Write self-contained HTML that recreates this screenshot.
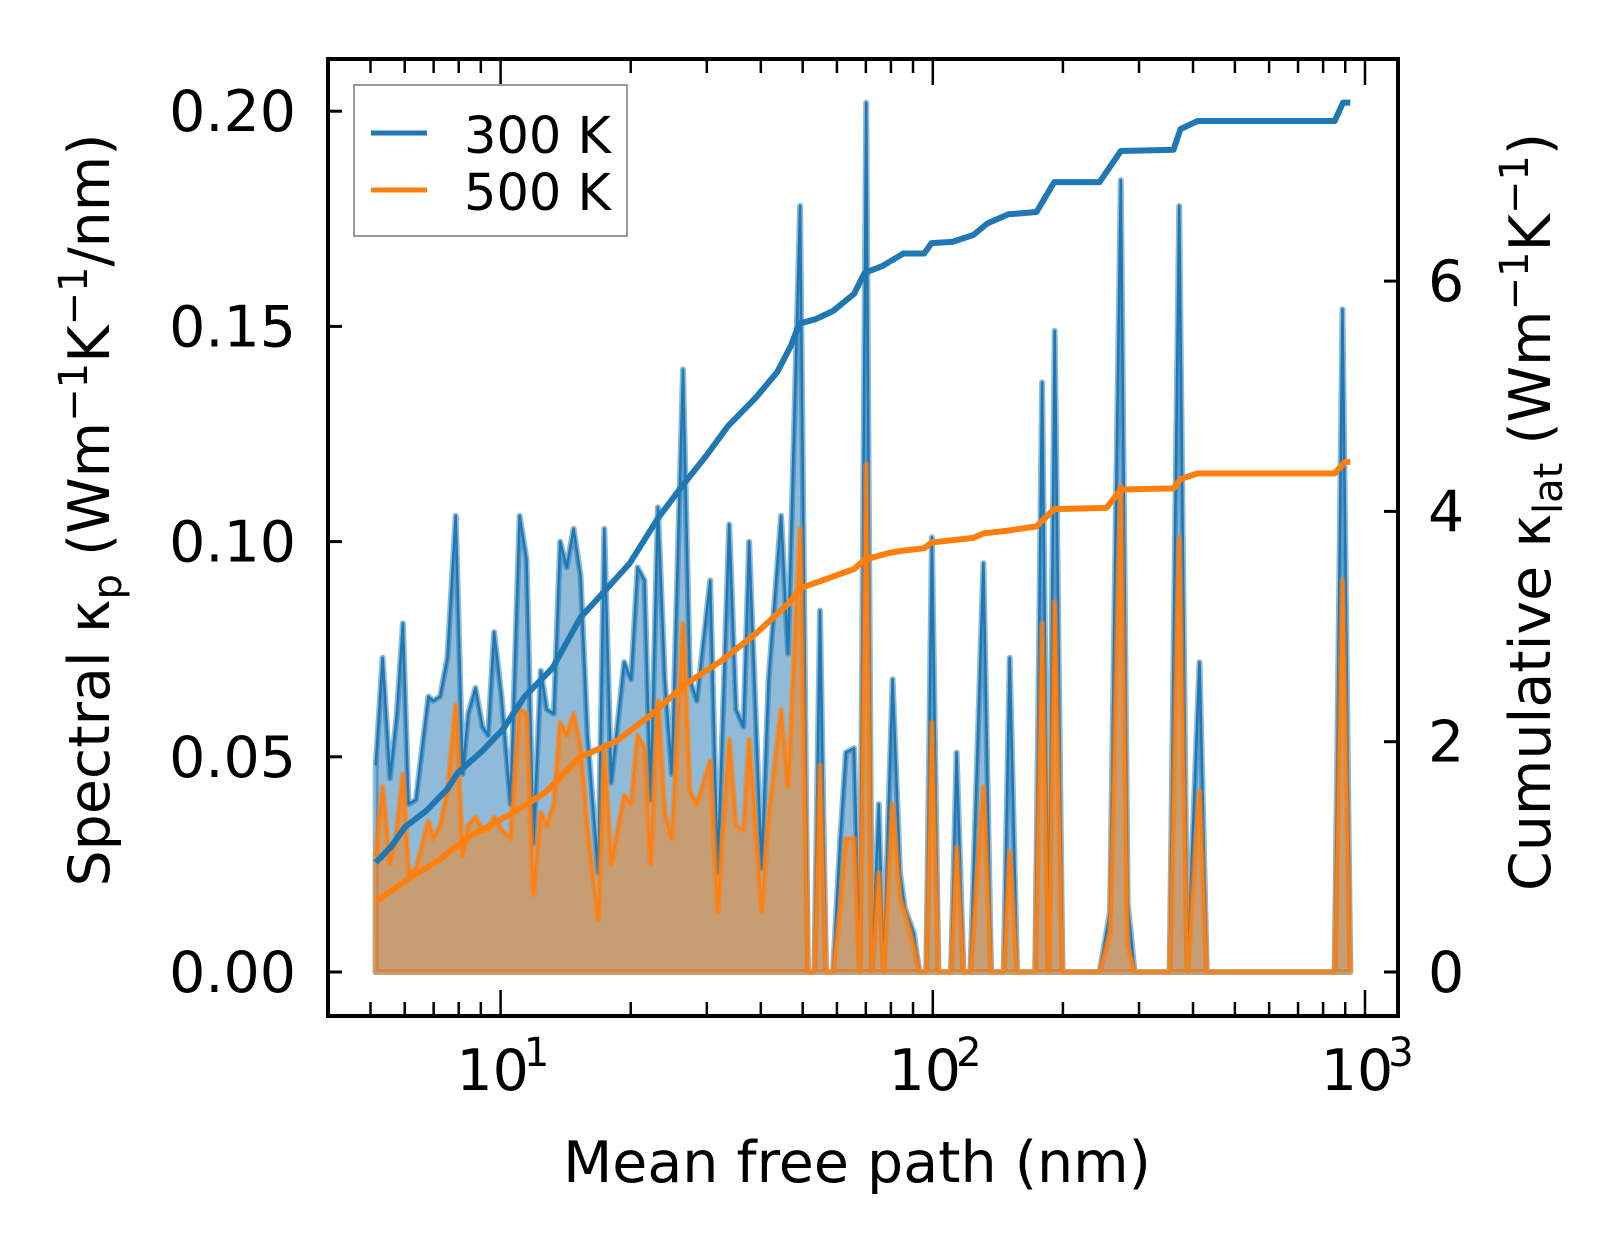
<!DOCTYPE html>
<html><head><meta charset="utf-8"><style>
html,body{margin:0;padding:0;background:#fff}
svg{display:block;font-family:"DejaVu Sans","Liberation Sans",sans-serif}
</style></head><body>
<svg id="chart" width="1623" height="1254" viewBox="0 0 1623 1254" xmlns="http://www.w3.org/2000/svg">
<defs><clipPath id="clip"><rect x="328" y="59" width="1070" height="957"/></clipPath></defs>
<g id="plot" clip-path="url(#clip)"></g>
<g id="axes"></g>
</svg>
<script>
const specLogMfp=[0.711,0.727,0.744,0.760,0.774,0.787,0.804,0.833,0.844,0.860,0.877,0.896,0.912,0.925,0.942,0.958,0.971,0.985,1.002,1.023,1.044,1.060,1.076,1.093,1.107,1.123,1.138,1.153,1.169,1.185,1.201,1.226,1.240,1.256,1.286,1.302,1.317,1.333,1.347,1.364,1.380,1.396,1.422,1.438,1.454,1.485,1.502,1.529,1.545,1.562,1.575,1.604,1.620,1.649,1.665,1.693,1.711,1.726,1.739,1.753,1.769,1.786,1.799,1.818,1.831,1.846,1.859,1.875,1.886,1.907,1.924,1.935,1.956,1.969,1.985,1.998,2.013,2.042,2.055,2.071,2.087,2.117,2.135,2.164,2.178,2.195,2.237,2.253,2.268,2.282,2.300,2.386,2.410,2.435,2.451,2.467,2.548,2.570,2.589,2.617,2.634,2.930,2.948,2.966];
const spec300=[0.048,0.073,0.045,0.060,0.081,0.039,0.040,0.064,0.063,0.064,0.073,0.106,0.046,0.060,0.066,0.057,0.055,0.079,0.064,0.039,0.106,0.096,0.030,0.070,0.061,0.060,0.100,0.094,0.103,0.092,0.055,0.023,0.103,0.044,0.072,0.068,0.094,0.091,0.040,0.108,0.068,0.046,0.140,0.068,0.063,0.091,0.023,0.104,0.061,0.057,0.100,0.024,0.068,0.106,0.074,0.178,0,0,0.084,0,0,0.031,0.051,0.052,0,0.202,0,0.039,0,0.068,0.023,0.015,0.009,0,0,0.101,0,0,0.051,0,0,0.095,0,0,0.073,0,0,0.137,0,0.149,0,0,0.014,0.184,0.016,0,0,0.178,0,0.072,0,0,0.154,0];
const spec500=[0.027,0.043,0.025,0.033,0.046,0.023,0.024,0.035,0.031,0.034,0.042,0.062,0.027,0.034,0.036,0.033,0.033,0.036,0.033,0.031,0.061,0.060,0.018,0.037,0.034,0.039,0.058,0.055,0.060,0.052,0.033,0.012,0.052,0.025,0.041,0.039,0.055,0.052,0.025,0.063,0.037,0.031,0.081,0.042,0.039,0.049,0.014,0.054,0.034,0.033,0.054,0.014,0.036,0.061,0.043,0.103,0,0,0.048,0,0,0.015,0.031,0.031,0,0.118,0,0.023,0,0.039,0.017,0.014,0.006,0,0,0.058,0,0,0.029,0,0,0.043,0,0,0.028,0,0,0.081,0,0.086,0,0,0.009,0.113,0.006,0,0,0.101,0,0.042,0,0,0.091,0];
const cum300LogMfp=[0.711,0.747,0.779,0.828,0.877,0.901,0.958,1.006,1.055,1.120,1.185,1.234,1.299,1.364,1.420,1.477,1.526,1.591,1.640,1.672,1.691,1.729,1.769,1.818,1.842,1.883,1.932,1.980,1.997,2.045,2.094,2.126,2.175,2.240,2.281,2.386,2.435,2.557,2.573,2.613,2.930,2.949,2.966];
const cum300=[0.95,1.09,1.26,1.40,1.59,1.73,1.92,2.11,2.39,2.64,3.08,3.28,3.55,3.94,4.22,4.49,4.74,4.99,5.21,5.44,5.63,5.67,5.74,5.89,6.07,6.13,6.24,6.24,6.33,6.34,6.40,6.50,6.58,6.60,6.86,6.86,7.13,7.14,7.32,7.39,7.39,7.55,7.55];
const cum500LogMfp=[0.711,0.779,0.860,0.925,1.023,1.104,1.185,1.266,1.347,1.428,1.510,1.591,1.672,1.691,1.737,1.818,1.842,1.899,1.932,1.980,1.997,2.045,2.094,2.118,2.167,2.240,2.281,2.402,2.435,2.557,2.573,2.613,2.930,2.954,2.966];
const cum500=[0.61,0.79,0.98,1.17,1.37,1.56,1.87,2.00,2.23,2.50,2.70,2.94,3.22,3.33,3.39,3.50,3.58,3.64,3.66,3.68,3.73,3.75,3.77,3.81,3.83,3.87,4.02,4.03,4.19,4.20,4.28,4.33,4.33,4.43,4.43];
const leftTicks=[0,0.05,0.10,0.15,0.20];
const leftTickLabels=["0.00","0.05","0.10","0.15","0.20"];
const rightTicks=[0,2,4,6];
const xMajorExp=[1,2,3];

const NS="http://www.w3.org/2000/svg";
const RIGHT=1398;
const X=l=>500.6+(l-1)*432.2;
const YL=v=>972-v*4304;
const YR=v=>972-v*115.15;
const plot=document.getElementById('plot'), axes=document.getElementById('axes');
function mk(tag,attrs,parent){const e=document.createElementNS(NS,tag);for(const k in attrs)e.setAttribute(k,attrs[k]);parent.appendChild(e);return e;}

function area(vals,color,name){
  let d='M'+X(specLogMfp[0])+','+YL(0);
  specLogMfp.forEach((l,i)=>{d+=' L'+X(l).toFixed(1)+','+YL(vals[i]).toFixed(1);});
  d+=' L'+X(specLogMfp[specLogMfp.length-1])+','+YL(0)+' Z';
  const a=mk('path',{d:d,fill:color,'fill-opacity':0.5,stroke:color,'stroke-opacity':0.5,'stroke-width':6,'stroke-linejoin':'round'},plot);
  
  
  let d2='';
  specLogMfp.forEach((l,i)=>{d2+=(i?' L':'M')+X(l).toFixed(1)+','+YL(vals[i]).toFixed(1);});
  const ln=mk('path',{d:d2,fill:'none',stroke:color,'stroke-width':2.5,'stroke-linejoin':'round'},plot);
  
  
}
area(spec300,'#1f77b4','spectral-300k');
area(spec500,'#ff7f0e','spectral-500k');
function cum(xs,vs,color,name){
  let d='';xs.forEach((l,i)=>{d+=(i?' L':'M')+X(l).toFixed(1)+','+YR(vs[i]).toFixed(1);});
  const p=mk('path',{d:d,fill:'none',stroke:color,'stroke-width':6,'stroke-linejoin':'round'},plot);
  
  
}
cum(cum300LogMfp,cum300,'#1f77b4','cumulative-300k-line');
cum(cum500LogMfp,cum500,'#ff7f0e','cumulative-500k-line');

const fr=mk('rect',{x:328,y:59,width:RIGHT-328,height:957,fill:'none',stroke:'#000','stroke-width':4},axes);


leftTicks.forEach((v,i)=>{
  const y=YL(v);
  mk('line',{x1:328,x2:342,y1:y,y2:y,stroke:'#000','stroke-width':3},axes);
  const t=mk('text',{x:296,y:y+20,'text-anchor':'end','font-size':57},axes);
  t.textContent=leftTickLabels[i];
  
  
});
rightTicks.forEach(v=>{
  const y=YR(v);
  mk('line',{x1:RIGHT-14,x2:RIGHT,y1:y,y2:y,stroke:'#000','stroke-width':3},axes);
  const t=mk('text',{x:1428,y:y+20,'text-anchor':'start','font-size':57},axes);
  t.textContent=String(v);
  
  
});
for(let e=0;e<=3;e++){for(let m=1;m<10;m++){
  const l=e+Math.log10(m); const x=X(l);
  if(x<330||x>RIGHT-2) continue;
  const len=m===1?26:14;
  mk('line',{x1:x,x2:x,y1:1016,y2:1016-len,stroke:'#000','stroke-width':2.5},axes);
  mk('line',{x1:x,x2:x,y1:59,y2:59+len,stroke:'#000','stroke-width':2.5},axes);
}}
xMajorExp.forEach(e=>{
  const x=X(e);
  const t=mk('text',{x:x-8,y:1090,'text-anchor':'middle','font-size':57},axes);
  t.textContent='10';
  
  
  const s=mk('text',{x:x+36,y:1066,'text-anchor':'middle','font-size':40},axes);
  s.textContent=String(e);
  
  
});
</script>
<svg style="position:absolute;left:0;top:0" width="1623" height="1254">
<text x="857" y="1182" text-anchor="middle" font-size="57" font-family="DejaVu Sans, sans-serif">Mean free path (nm)</text>
<text transform="translate(109,510) rotate(-90)" text-anchor="middle" font-size="57" font-family="DejaVu Sans, sans-serif">Spectral κ<tspan font-size="40" dy="12">p</tspan><tspan dy="-12"> (Wm</tspan><tspan font-size="40" dy="-22">−1</tspan><tspan dy="22">K</tspan><tspan font-size="40" dy="-22">−1</tspan><tspan dy="22">/nm)</tspan></text>
<text transform="translate(1550,512) rotate(-90)" text-anchor="middle" font-size="57" font-family="DejaVu Sans, sans-serif">Cumulative κ<tspan font-size="40" dy="12">lat</tspan><tspan dy="-12"> (Wm</tspan><tspan font-size="40" dy="-22">−1</tspan><tspan dy="22">K</tspan><tspan font-size="40" dy="-22">−1</tspan><tspan dy="22">)</tspan></text>
<g>
<rect x="354" y="85" width="273" height="151" fill="#fff" fill-opacity="0.8" stroke="#999" stroke-width="2"/>
<line x1="371" y1="133" x2="427" y2="133" stroke="#1f77b4" stroke-width="5"/>
<text x="464" y="153" font-size="51" font-family="DejaVu Sans, sans-serif">300 K</text>
<line x1="371" y1="190" x2="427" y2="190" stroke="#ff7f0e" stroke-width="5"/>
<text x="464" y="210" font-size="51" font-family="DejaVu Sans, sans-serif">500 K</text>
</g>
</svg>
</body></html>
